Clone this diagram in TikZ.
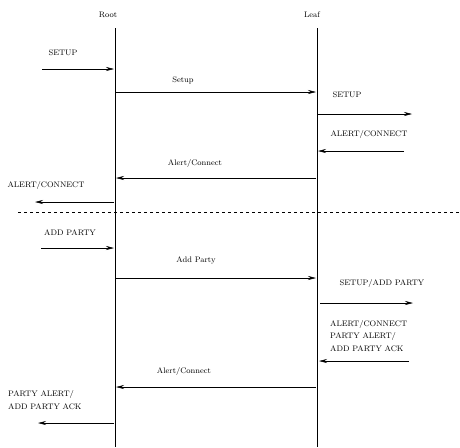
\documentclass[tikz,border=0pt]{standalone}
\usetikzlibrary{arrows.meta}
\tikzset{
  msg/.style={-{Stealth[length=8pt,width=4pt]},line width=0.6pt},
  lifeline/.style={line width=1pt},
  lbl/.style={font=\footnotesize,inner sep=1pt},
  mlbl/.style={font=\fontsize{8}{12.5}\selectfont,align=left,inner sep=1pt}
}

\begin{document}
\begin{tikzpicture}[x=1pt,y=-1pt]
  \useasboundingbox (0,0) rectangle (460,447);

  % Lifelines
  \node[lbl] (root) at (108,15) {Root};
  \node[lbl] (leaf) at (312,15) {Leaf};
  \coordinate (roottop) at (115,28);
  \coordinate (rootbot) at (115,447);
  \coordinate (leaftop) at (317,28);
  \coordinate (leafbot) at (317,447);
  \draw[lifeline] (roottop) -- (rootbot);
  \draw[lifeline] (leaftop) -- (leafbot);

  % Setup phase
  \node[lbl] (setupin) at (63,53) {SETUP};
  \coordinate (a0) at (42,69);   \coordinate (a1) at (114,69);
  \draw[msg] (a0) -- (a1);

  \node[lbl] (setup) at (183,80) {Setup};
  \coordinate (b0) at (116,92);  \coordinate (b1) at (316,92);
  \draw[msg] (b0) -- (b1);

  \node[lbl] (setupout) at (347,95) {SETUP};
  \coordinate (c0) at (318,114); \coordinate (c1) at (412,114);
  \draw[msg] (c0) -- (c1);

  \node[lbl] (alertin) at (369,134) {ALERT/CONNECT};
  \coordinate (d0) at (404,151); \coordinate (d1) at (318,151);
  \draw[msg] (d0) -- (d1);

  \node[lbl] (alert) at (195,163) {Alert/Connect};
  \coordinate (e0) at (316,178); \coordinate (e1) at (116,178);
  \draw[msg] (e0) -- (e1);

  \node[lbl] (alertout) at (46,185) {ALERT/CONNECT};
  \coordinate (f0) at (114,202); \coordinate (f1) at (35,202);
  \draw[msg] (f0) -- (f1);

  % Separator
  \coordinate (sep0) at (18,212); \coordinate (sep1) at (460,212);
  \draw[dashed,line width=0.7pt] (sep0) -- (sep1);

  % Add party phase
  \node[lbl] (addin) at (70,233) {ADD PARTY};
  \coordinate (g0) at (41,248);  \coordinate (g1) at (114,248);
  \draw[msg] (g0) -- (g1);

  \node[lbl] (add) at (196,260) {Add Party};
  \coordinate (h0) at (116,278); \coordinate (h1) at (316,278);
  \draw[msg] (h0) -- (h1);

  \node[lbl] (addout) at (382,283) {SETUP/ADD PARTY};
  \coordinate (i0) at (320,303); \coordinate (i1) at (413,303);
  \draw[msg] (i0) -- (i1);

  \node[mlbl,anchor=west] (ackin) at (329,336) {ALERT/CONNECT\\PARTY ALERT/\\ADD PARTY ACK};
  \coordinate (j0) at (409,361); \coordinate (j1) at (319,361);
  \draw[msg] (j0) -- (j1);

  \node[lbl] (ack) at (184,371) {Alert/Connect};
  \coordinate (k0) at (316,387); \coordinate (k1) at (116,387);
  \draw[msg] (k0) -- (k1);

  \node[mlbl,anchor=west] (ackout) at (7,400) {PARTY ALERT/\\ADD PARTY ACK};
  \coordinate (l0) at (114,423); \coordinate (l1) at (38,423);
  \draw[msg] (l0) -- (l1);
\end{tikzpicture}
\end{document}
